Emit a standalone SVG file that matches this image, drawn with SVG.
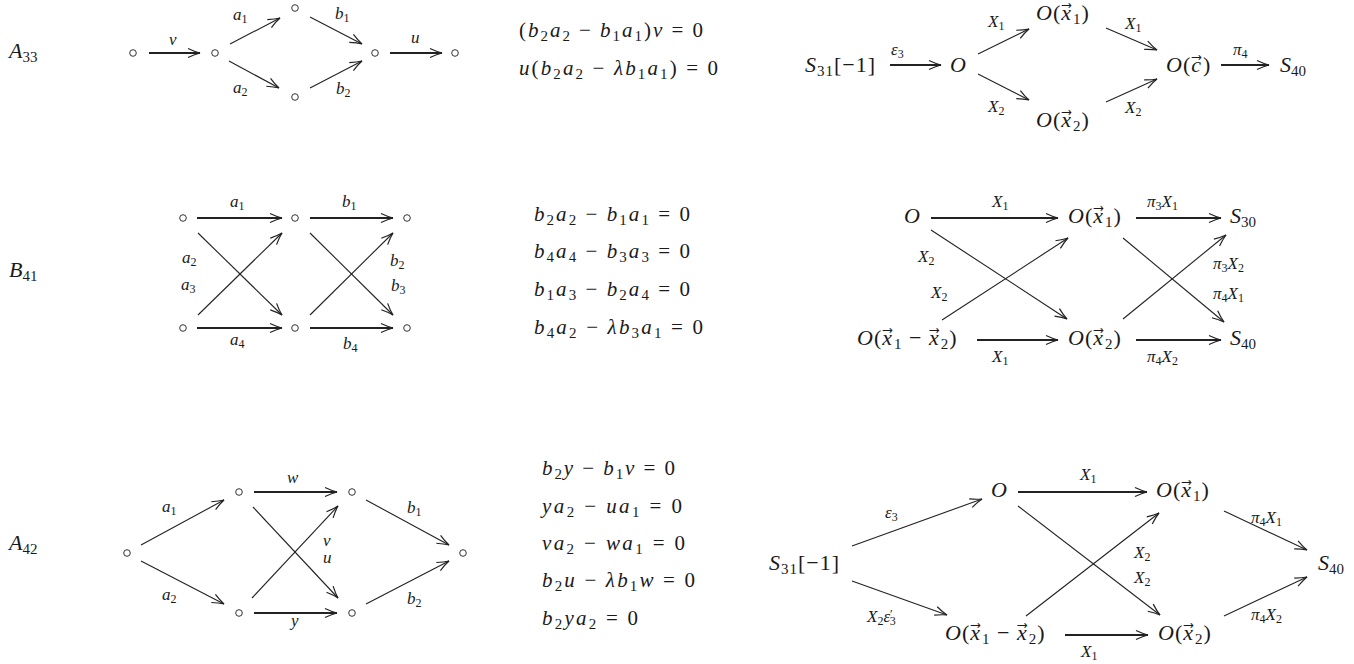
<svg xmlns="http://www.w3.org/2000/svg" width="1354" height="664" viewBox="0 0 1354 664">
<style>
.t{font-family:'Liberation Serif',serif;fill:#1a1a1a;font-style:italic}
.m{font-size:22px}
.q{font-size:21px}
.l{font-size:17px}
.n{font-style:normal}
.s{font-size:15px;font-style:normal}
.ss{font-size:12px;font-style:normal}
.v{font-family:'DejaVu Sans',sans-serif;font-style:normal}
.w{letter-spacing:1px}
.e{stroke:#222;fill:none;stroke-width:1.1;marker-end:url(#ah)}
.h{stroke-width:2}
.c{fill:none;stroke:#333;stroke-width:1}
</style>
<defs>
<marker id="ah" markerUnits="userSpaceOnUse" markerWidth="16" markerHeight="12" viewBox="-14 -6 16 12" refX="0" refY="0" orient="auto" overflow="visible">
<path d="M-12,-4.5 Q-5,-1.2 0,0 Q-5,1.2 -12,4.5" fill="none" stroke="#222" stroke-width="1.2"/>
</marker>
</defs>
<rect width="1354" height="664" fill="#fff"/>

<g id="label-A33"><text class="t m" x="9" y="58">A<tspan class="s" dy="4">33</tspan></text></g>
<g id="label-B41"><text class="t m" x="9" y="277">B<tspan class="s" dy="4">41</tspan></text></g>
<g id="label-A42"><text class="t m" x="9" y="550">A<tspan class="s" dy="4">42</tspan></text></g>

<g id="r1q-1"><circle class="c" cx="133" cy="53" r="3.3"/></g>
<g id="r1q-2"><circle class="c" cx="215" cy="53" r="3.3"/></g>
<g id="r1q-3"><circle class="c" cx="295" cy="8" r="3.3"/></g>
<g id="r1q-4"><circle class="c" cx="295" cy="97" r="3.3"/></g>
<g id="r1q-5"><circle class="c" cx="375" cy="53" r="3.3"/></g>
<g id="r1q-6"><circle class="c" cx="455" cy="53" r="3.3"/></g>

<g id="r1-eqs">
<text class="t q" x="519" y="37" textLength="184" lengthAdjust="spacing"><tspan class="n">(</tspan>b<tspan class="s" dy="4">2</tspan><tspan dy="-4">a</tspan><tspan class="s" dy="4">2</tspan><tspan class="n" dy="-4"> − </tspan>b<tspan class="s" dy="4">1</tspan><tspan dy="-4">a</tspan><tspan class="s" dy="4">1</tspan><tspan class="n" dy="-4">)</tspan>v<tspan class="n"> = 0</tspan></text>
<text class="t q" x="519" y="75" textLength="199" lengthAdjust="spacing">u<tspan class="n">(</tspan>b<tspan class="s" dy="4">2</tspan><tspan dy="-4">a</tspan><tspan class="s" dy="4">2</tspan><tspan class="n" dy="-4"> − </tspan>λb<tspan class="s" dy="4">1</tspan><tspan dy="-4">a</tspan><tspan class="s" dy="4">1</tspan><tspan class="n" dy="-4">) = 0</tspan></text>
</g>

<g id="r1-S31"><text class="t m w" x="805" y="72">S<tspan class="s" dy="4">31</tspan><tspan class="n" dy="-4">[−1]</tspan></text></g>
<g id="r1-O"><text class="t m" x="950" y="72">O</text></g>
<g id="r1-Ox1"><text class="t m w" x="1036" y="20">O<tspan class="n">(</tspan>x<tspan class="v">&#x20D7;</tspan><tspan class="s" dy="4">1</tspan><tspan class="n" dy="-4">)</tspan></text></g>
<g id="r1-Ox2"><text class="t m w" x="1036" y="127">O<tspan class="n">(</tspan>x<tspan class="v">&#x20D7;</tspan><tspan class="s" dy="4">2</tspan><tspan class="n" dy="-4">)</tspan></text></g>
<g id="r1-Oc"><text class="t m w" x="1166" y="72">O<tspan class="n">(</tspan>c<tspan class="v">&#x20D7;</tspan><tspan class="n">)</tspan></text></g>
<g id="r1-S40"><text class="t m" x="1280" y="72">S<tspan class="s" dy="4">40</tspan></text></g>

<g id="r2q-1"><circle class="c" cx="183" cy="218" r="3.3"/></g>
<g id="r2q-2"><circle class="c" cx="295" cy="218" r="3.3"/></g>
<g id="r2q-3"><circle class="c" cx="407" cy="218" r="3.3"/></g>
<g id="r2q-4"><circle class="c" cx="183" cy="328" r="3.3"/></g>
<g id="r2q-5"><circle class="c" cx="295" cy="328" r="3.3"/></g>
<g id="r2q-6"><circle class="c" cx="407" cy="328" r="3.3"/></g>

<g id="r2-eqs">
<text class="t q" x="534" y="221" textLength="156" lengthAdjust="spacing">b<tspan class="s" dy="4">2</tspan><tspan dy="-4">a</tspan><tspan class="s" dy="4">2</tspan><tspan class="n" dy="-4"> − </tspan>b<tspan class="s" dy="4">1</tspan><tspan dy="-4">a</tspan><tspan class="s" dy="4">1</tspan><tspan class="n" dy="-4"> = 0</tspan></text>
<text class="t q" x="534" y="258" textLength="156" lengthAdjust="spacing">b<tspan class="s" dy="4">4</tspan><tspan dy="-4">a</tspan><tspan class="s" dy="4">4</tspan><tspan class="n" dy="-4"> − </tspan>b<tspan class="s" dy="4">3</tspan><tspan dy="-4">a</tspan><tspan class="s" dy="4">3</tspan><tspan class="n" dy="-4"> = 0</tspan></text>
<text class="t q" x="534" y="296" textLength="156" lengthAdjust="spacing">b<tspan class="s" dy="4">1</tspan><tspan dy="-4">a</tspan><tspan class="s" dy="4">3</tspan><tspan class="n" dy="-4"> − </tspan>b<tspan class="s" dy="4">2</tspan><tspan dy="-4">a</tspan><tspan class="s" dy="4">4</tspan><tspan class="n" dy="-4"> = 0</tspan></text>
<text class="t q" x="534" y="334" textLength="169" lengthAdjust="spacing">b<tspan class="s" dy="4">4</tspan><tspan dy="-4">a</tspan><tspan class="s" dy="4">2</tspan><tspan class="n" dy="-4"> − </tspan>λb<tspan class="s" dy="4">3</tspan><tspan dy="-4">a</tspan><tspan class="s" dy="4">1</tspan><tspan class="n" dy="-4"> = 0</tspan></text>
</g>

<g id="r2-O"><text class="t m" x="904" y="223">O</text></g>
<g id="r2-Ox1"><text class="t m w" x="1068" y="223">O<tspan class="n">(</tspan>x<tspan class="v">&#x20D7;</tspan><tspan class="s" dy="4">1</tspan><tspan class="n" dy="-4">)</tspan></text></g>
<g id="r2-S30"><text class="t m" x="1230" y="223">S<tspan class="s" dy="4">30</tspan></text></g>
<g id="r2-Ox1x2"><text class="t m w" x="857" y="345">O<tspan class="n">(</tspan>x<tspan class="v">&#x20D7;</tspan><tspan class="s" dy="4">1</tspan><tspan class="n" dy="-4"> − </tspan>x<tspan class="v">&#x20D7;</tspan><tspan class="s" dy="4">2</tspan><tspan class="n" dy="-4">)</tspan></text></g>
<g id="r2-Ox2"><text class="t m w" x="1068" y="345">O<tspan class="n">(</tspan>x<tspan class="v">&#x20D7;</tspan><tspan class="s" dy="4">2</tspan><tspan class="n" dy="-4">)</tspan></text></g>
<g id="r2-S40"><text class="t m" x="1230" y="345">S<tspan class="s" dy="4">40</tspan></text></g>

<g id="r3q-1"><circle class="c" cx="127" cy="553" r="3.3"/></g>
<g id="r3q-2"><circle class="c" cx="239" cy="492" r="3.3"/></g>
<g id="r3q-3"><circle class="c" cx="352" cy="492" r="3.3"/></g>
<g id="r3q-4"><circle class="c" cx="239" cy="613" r="3.3"/></g>
<g id="r3q-5"><circle class="c" cx="352" cy="613" r="3.3"/></g>
<g id="r3q-6"><circle class="c" cx="463" cy="553" r="3.3"/></g>

<g id="r3-eqs">
<text class="t q" x="542" y="475" textLength="133" lengthAdjust="spacing">b<tspan class="s" dy="4">2</tspan><tspan dy="-4">y</tspan><tspan class="n"> − </tspan>b<tspan class="s" dy="4">1</tspan><tspan dy="-4">v</tspan><tspan class="n"> = 0</tspan></text>
<text class="t q" x="542" y="513" textLength="140" lengthAdjust="spacing">ya<tspan class="s" dy="4">2</tspan><tspan class="n" dy="-4"> − </tspan>ua<tspan class="s" dy="4">1</tspan><tspan class="n" dy="-4"> = 0</tspan></text>
<text class="t q" x="542" y="550" textLength="143" lengthAdjust="spacing">va<tspan class="s" dy="4">2</tspan><tspan class="n" dy="-4"> − </tspan>wa<tspan class="s" dy="4">1</tspan><tspan class="n" dy="-4"> = 0</tspan></text>
<text class="t q" x="542" y="587" textLength="153" lengthAdjust="spacing">b<tspan class="s" dy="4">2</tspan><tspan dy="-4">u</tspan><tspan class="n"> − </tspan>λb<tspan class="s" dy="4">1</tspan><tspan dy="-4">w</tspan><tspan class="n"> = 0</tspan></text>
<text class="t q" x="542" y="625" textLength="96" lengthAdjust="spacing">b<tspan class="s" dy="4">2</tspan><tspan dy="-4">ya</tspan><tspan class="s" dy="4">2</tspan><tspan class="n" dy="-4"> = 0</tspan></text>
</g>

<g id="r3-S31"><text class="t m w" x="769" y="570">S<tspan class="s" dy="4">31</tspan><tspan class="n" dy="-4">[−1]</tspan></text></g>
<g id="r3-O"><text class="t m" x="991" y="497">O</text></g>
<g id="r3-Ox1"><text class="t m w" x="1156" y="497">O<tspan class="n">(</tspan>x<tspan class="v">&#x20D7;</tspan><tspan class="s" dy="4">1</tspan><tspan class="n" dy="-4">)</tspan></text></g>
<g id="r3-Ox1x2"><text class="t m w" x="945" y="640">O<tspan class="n">(</tspan>x<tspan class="v">&#x20D7;</tspan><tspan class="s" dy="4">1</tspan><tspan class="n" dy="-4"> − </tspan>x<tspan class="v">&#x20D7;</tspan><tspan class="s" dy="4">2</tspan><tspan class="n" dy="-4">)</tspan></text></g>
<g id="r3-Ox2"><text class="t m w" x="1158" y="640">O<tspan class="n">(</tspan>x<tspan class="v">&#x20D7;</tspan><tspan class="s" dy="4">2</tspan><tspan class="n" dy="-4">)</tspan></text></g>
<g id="r3-S40"><text class="t m" x="1318" y="570">S<tspan class="s" dy="4">40</tspan></text></g>

<g id="connectors">
<line class="e h" x1="149" y1="53" x2="200" y2="53"/>
<line class="e" x1="230" y1="44" x2="280" y2="18"/>
<line class="e" x1="229" y1="61" x2="279" y2="88"/>
<line class="e" x1="310" y1="17" x2="362" y2="44"/>
<line class="e" x1="310" y1="88" x2="362" y2="61"/>
<line class="e h" x1="390" y1="53" x2="442" y2="53"/>
<line class="e h" x1="890" y1="65" x2="941" y2="65"/>
<line class="e" x1="978" y1="54" x2="1029" y2="29"/>
<line class="e" x1="978" y1="74" x2="1029" y2="100"/>
<line class="e" x1="1106" y1="28" x2="1157" y2="50"/>
<line class="e" x1="1106" y1="102" x2="1157" y2="79"/>
<line class="e h" x1="1221" y1="65" x2="1269" y2="65"/>
<line class="e h" x1="197" y1="218" x2="282" y2="218"/>
<line class="e h" x1="310" y1="218" x2="393" y2="218"/>
<line class="e h" x1="197" y1="328" x2="282" y2="328"/>
<line class="e h" x1="310" y1="328" x2="393" y2="328"/>
<line class="e" x1="198" y1="233" x2="282" y2="315"/>
<line class="e" x1="198" y1="315" x2="282" y2="233"/>
<line class="e" x1="310" y1="233" x2="393" y2="315"/>
<line class="e" x1="310" y1="315" x2="393" y2="233"/>
<line class="e h" x1="931" y1="218" x2="1058" y2="218"/>
<line class="e h" x1="1136" y1="218" x2="1221" y2="218"/>
<line class="e h" x1="977" y1="340" x2="1058" y2="340"/>
<line class="e h" x1="1136" y1="340" x2="1221" y2="340"/>
<line class="e" x1="931" y1="230" x2="1067" y2="319"/>
<line class="e" x1="942" y1="320" x2="1068" y2="238"/>
<line class="e" x1="1123" y1="238" x2="1224" y2="322"/>
<line class="e" x1="1123" y1="319" x2="1226" y2="235"/>
<line class="e" x1="141" y1="545" x2="224" y2="500"/>
<line class="e" x1="141" y1="561" x2="224" y2="604"/>
<line class="e h" x1="254" y1="492" x2="337" y2="492"/>
<line class="e" x1="253" y1="507" x2="338" y2="598"/>
<line class="e" x1="252" y1="598" x2="338" y2="506"/>
<line class="e h" x1="254" y1="613" x2="337" y2="613"/>
<line class="e" x1="366" y1="500" x2="449" y2="545"/>
<line class="e" x1="366" y1="604" x2="449" y2="561"/>
<line class="e" x1="852" y1="546" x2="982" y2="499"/>
<line class="e" x1="852" y1="581" x2="947" y2="615"/>
<line class="e h" x1="1018" y1="492" x2="1147" y2="492"/>
<line class="e" x1="1018" y1="506" x2="1160" y2="615"/>
<line class="e" x1="1026" y1="616" x2="1159" y2="513"/>
<line class="e h" x1="1065" y1="635" x2="1148" y2="635"/>
<line class="e" x1="1224" y1="511" x2="1307" y2="550"/>
<line class="e" x1="1224" y1="616" x2="1307" y2="577"/>

<g class="t l">
<text x="169" y="45">v</text>
<text x="233" y="20">a<tspan class="ss" dy="3">1</tspan></text>
<text x="233" y="93">a<tspan class="ss" dy="3">2</tspan></text>
<text x="335" y="19">b<tspan class="ss" dy="3">1</tspan></text>
<text x="336" y="94">b<tspan class="ss" dy="3">2</tspan></text>
<text x="411" y="43">u</text>

<text x="891" y="55">ε<tspan class="ss" dy="3">3</tspan></text>
<text x="988" y="27">X<tspan class="ss" dy="3">1</tspan></text>
<text x="988" y="112">X<tspan class="ss" dy="3">2</tspan></text>
<text x="1125" y="29">X<tspan class="ss" dy="3">1</tspan></text>
<text x="1125" y="113">X<tspan class="ss" dy="3">2</tspan></text>
<text x="1233" y="55">π<tspan class="ss" dy="3">4</tspan></text>

<text x="230" y="207">a<tspan class="ss" dy="3">1</tspan></text>
<text x="342" y="207">b<tspan class="ss" dy="3">1</tspan></text>
<text x="182" y="263">a<tspan class="ss" dy="3">2</tspan></text>
<text x="181" y="290">a<tspan class="ss" dy="3">3</tspan></text>
<text x="390" y="266">b<tspan class="ss" dy="3">2</tspan></text>
<text x="391" y="291">b<tspan class="ss" dy="3">3</tspan></text>
<text x="230" y="345">a<tspan class="ss" dy="3">4</tspan></text>
<text x="343" y="349">b<tspan class="ss" dy="3">4</tspan></text>

<text x="992" y="207">X<tspan class="ss" dy="3">1</tspan></text>
<text x="1147" y="207">π<tspan class="ss" dy="3">3</tspan><tspan dy="-3">X</tspan><tspan class="ss" dy="3">1</tspan></text>
<text x="918" y="262">X<tspan class="ss" dy="3">2</tspan></text>
<text x="931" y="298">X<tspan class="ss" dy="3">2</tspan></text>
<text x="1213" y="269">π<tspan class="ss" dy="3">3</tspan><tspan dy="-3">X</tspan><tspan class="ss" dy="3">2</tspan></text>
<text x="1213" y="299">π<tspan class="ss" dy="3">4</tspan><tspan dy="-3">X</tspan><tspan class="ss" dy="3">1</tspan></text>
<text x="992" y="362">X<tspan class="ss" dy="3">1</tspan></text>
<text x="1147" y="362">π<tspan class="ss" dy="3">4</tspan><tspan dy="-3">X</tspan><tspan class="ss" dy="3">2</tspan></text>

<text x="162" y="512">a<tspan class="ss" dy="3">1</tspan></text>
<text x="162" y="600">a<tspan class="ss" dy="3">2</tspan></text>
<text x="287" y="483">w</text>
<text x="323" y="546">v</text>
<text x="323" y="563">u</text>
<text x="291" y="626">y</text>
<text x="407" y="513">b<tspan class="ss" dy="3">1</tspan></text>
<text x="407" y="604">b<tspan class="ss" dy="3">2</tspan></text>

<text x="885" y="518">ε<tspan class="ss" dy="3">3</tspan></text>
<text x="867" y="622">X<tspan class="ss" dy="3">2</tspan><tspan dy="-3">ε</tspan><tspan class="ss" dy="-4">′</tspan><tspan class="ss" dx="-3" dy="7">3</tspan></text>
<text x="1080" y="480">X<tspan class="ss" dy="3">1</tspan></text>
<text x="1134" y="558">X<tspan class="ss" dy="3">2</tspan></text>
<text x="1134" y="583">X<tspan class="ss" dy="3">2</tspan></text>
<text x="1081" y="657">X<tspan class="ss" dy="3">1</tspan></text>
<text x="1251" y="523">π<tspan class="ss" dy="3">4</tspan><tspan dy="-3">X</tspan><tspan class="ss" dy="3">1</tspan></text>
<text x="1251" y="620">π<tspan class="ss" dy="3">4</tspan><tspan dy="-3">X</tspan><tspan class="ss" dy="3">2</tspan></text>
</g>
</g>
</svg>
